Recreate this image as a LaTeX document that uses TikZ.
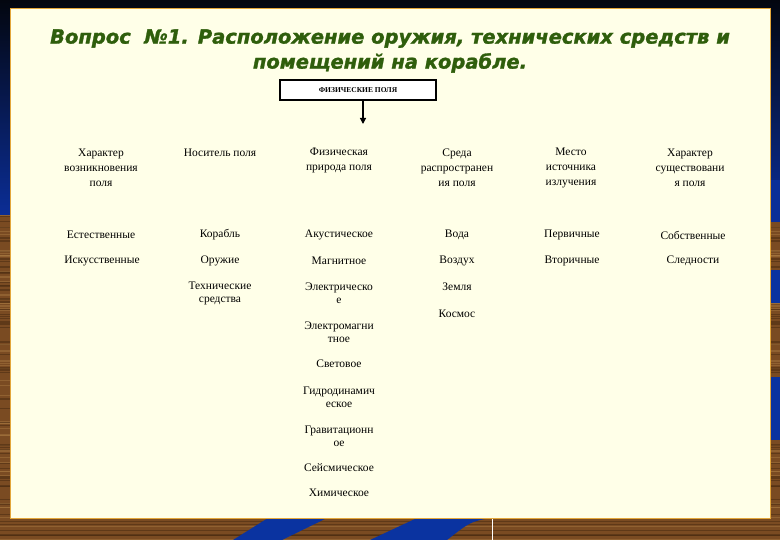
\documentclass[tikz,border=0pt]{standalone}
\usepackage{fontspec}
\setmainfont{Liberation Serif}
\newfontfamily\titlefont[FakeBold=1.5]{DejaVu Sans}
\usetikzlibrary{arrows.meta}
\definecolor{navytop}{HTML}{03060F}
\definecolor{navybot}{HTML}{0B2E98}
\definecolor{woodbase}{HTML}{7A4B22}
\definecolor{wooddark}{HTML}{4E2E12}
\definecolor{woodlight}{HTML}{A67840}
\definecolor{stripeblue}{HTML}{0A33A0}
\definecolor{cardfill}{HTML}{FFFFE8}
\definecolor{cardedge}{HTML}{E3A63A}
\definecolor{titlegreen}{HTML}{2F5E0C}
\tikzset{
  hdr/.style={align=center, inner sep=0pt, font=\fontsize{11.5}{15}\selectfont},
  item/.style={align=center, inner sep=0pt, font=\fontsize{11.5}{13}\selectfont},
  topbox/.style={draw=black, line width=2pt, fill=white, minimum width=156pt, minimum height=20pt, inner sep=0pt, font=\bfseries\fontsize{7.5}{8}\selectfont},
  titletext/.style={align=center, inner sep=0pt, text=titlegreen, font=\titlefont\bfseries\itshape\fontsize{19.5}{25}\selectfont}
}
\begin{document}
\begin{tikzpicture}[x=1pt,y=-1pt]
\useasboundingbox (0,0) rectangle (780,540);
% background
\shade[top color=navytop, bottom color=navybot] (0,0) rectangle (780,218);
\fill[woodbase] (0,215) rectangle (780,540);
\pgfmathsetseed{7}
\foreach \i in {1,...,110}{
  \pgfmathsetmacro{\yy}{215+rnd*325}
  \pgfmathsetmacro{\ww}{0.4+rnd*1.4}
  \pgfmathsetmacro{\cc}{rnd}
  \ifdim\cc pt<0.5pt
    \draw[wooddark, line width=\ww pt, opacity=0.6] (0,\yy) -- (780,\yy);
  \else
    \draw[woodlight, line width=\ww pt, opacity=0.5] (0,\yy) -- (780,\yy);
  \fi
}
\fill[navybot] (740,180) rectangle (780,222);
\fill[stripeblue] (765,270) rectangle (780,303);
\fill[stripeblue] (765,377) rectangle (780,440);
\fill[stripeblue] (233,540) -- (268,518) -- (327,518) -- (282,540) -- cycle;
\fill[stripeblue] (370,540) -- (417,518) -- (490,518) .. controls (470,522) .. (447,540) -- cycle;
\draw[white, line width=0.8pt] (492,518) -- (492,540);
% card
\draw[fill=cardfill, draw=cardedge, line width=1pt] (10,9) rectangle (770,518);
% title
\node[titletext] (title) at (390,51) {Вопрос \ №1. Расположение оружия, технических средств и\\помещений на корабле.};
% top box and arrow
\node[topbox] (fp) at (358,90.5) {ФИЗИЧЕСКИЕ ПОЛЯ};
\coordinate (arrEnd) at (363,124);
\draw[line width=1.2pt, -{Triangle[length=6pt,width=6pt]}] (fp.south -| arrEnd) -- (arrEnd);
% headers
\node[hdr] (h1) at (101,168) {Характер\\возникновения\\поля};
\node[hdr] (h2) at (220,153) {Носитель поля};
\node[hdr] (h3) at (339,160.5) {Физическая\\природа поля};
\node[hdr] (h4) at (457,168) {Среда\\распространен\\ия поля};
\node[hdr] (h5) at (571,168) {Место\\источника\\излучения};
\node[hdr] (h6) at (690,168) {Характер\\существовани\\я поля};
% column 1
\node[item] (a1) at (101,235) {Естественные};
\node[item] (a2) at (102,261) {Искусственные};
% column 2
\node[item] (b1) at (220,235) {Корабль};
\node[item] (b2) at (220,261) {Оружие};
\node[item] (b3) at (220,293.5) {Технические\\средства};
% column 3
\node[item] (c1) at (339,235) {Акустическое};
\node[item] (c2) at (339,261) {Магнитное};
\node[item] (c3) at (339,293.5) {Электрическо\\е};
\node[item] (c4) at (339,332.5) {Электромагни\\тное};
\node[item] (c5) at (339,364) {Световое};
\node[item] (c6) at (339,397) {Гидродинамич\\еское};
\node[item] (c7) at (339,436.5) {Гравитационн\\ое};
\node[item] (c8) at (339,468) {Сейсмическое};
\node[item] (c9) at (339,493) {Химическое};
% column 4
\node[item] (d1) at (457,235) {Вода};
\node[item] (d2) at (457,261) {Воздух};
\node[item] (d3) at (457,287) {Земля};
\node[item] (d4) at (457,314) {Космос};
% column 5
\node[item] (e1) at (572,235) {Первичные};
\node[item] (e2) at (572,261) {Вторичные};
% column 6
\node[item] (f1) at (693,235) {Собственные};
\node[item] (f2) at (693,261) {Следности};
\end{tikzpicture}
\end{document}
